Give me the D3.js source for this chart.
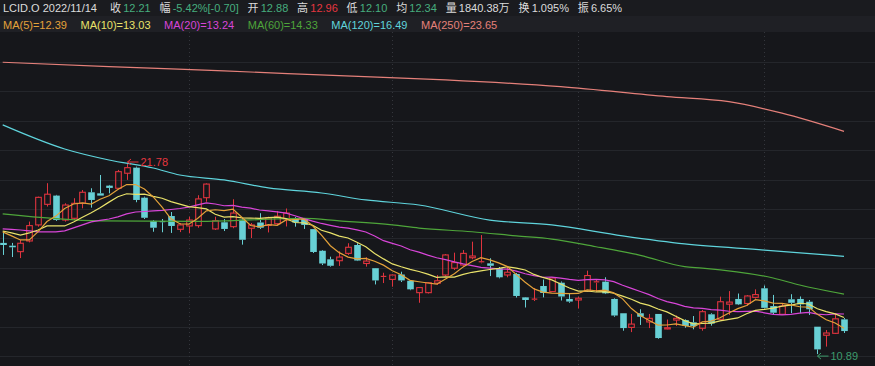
<!DOCTYPE html>
<html><head><meta charset="utf-8">
<script src="https://cdn.jsdelivr.net/npm/d3@7"></script>
<style>
html,body{margin:0;padding:0;background:#16171b;overflow:hidden}
svg{display:block}
text{font-family:"Liberation Sans",Arial,"Noto Sans CJK SC",sans-serif}
</style></head><body>
<svg id="c" width="875" height="366"></svg>
<script>
// ---------- data ----------
const symbol = "LCID.O";
const tradeDate = "2022/11/14";
const quoteLabels = ["收","幅","开","高","低","均","量","换","振"];
const quoteValues = ["12.21","-5.42%[-0.70]","12.88","12.96","12.10","12.34","1840.38万","1.095%","6.65%"];
const quoteTone   = ["down","down","down","up","down","down","flat","flat","flat"];

const maNames  = ["MA(5)","MA(10)","MA(20)","MA(60)","MA(120)","MA(250)"];
const maLatest = ["12.39","13.03","13.24","14.33","16.49","23.65"];

const opens  = [17.26,17.10,16.76,17.37,18.29,19.47,19.97,18.57,18.67,19.53,
                20.16,20.10,20.54,20.39,21.25,21.57,19.85,18.52,18.48,18.80,
                18.04,18.23,18.25,19.85,18.06,18.44,18.19,18.59,18.10,18.43,
                18.26,18.36,18.63,18.68,18.65,18.05,16.81,16.32,16.24,16.66,
                17.14,16.08,15.81,15.29,15.17,15.45,15.09,14.41,14.41,14.95,
                15.42,15.81,15.99,16.41,16.13,16.09,15.81,15.42,15.48,14.14,
                13.99,14.79,14.47,14.98,14.05,13.99,14.50,14.98,15.04,14.05,
                13.23,12.42,13.23,12.73,13.19,12.33,12.84,12.84,12.71,12.37,
                13.17,12.88,13.75,14.05,13.79,14.14,14.66,13.64,13.17,14.03,
                14.05,13.89,12.46,11.97,12.08,12.88];
const highs  = [17.94,17.26,17.43,18.48,19.91,20.68,20.01,19.53,19.82,20.29,
                20.39,21.15,20.58,21.44,21.78,21.63,19.91,18.57,18.63,19.03,
                18.40,18.76,19.99,20.67,18.76,18.63,19.76,18.69,18.40,18.96,
                18.76,19.09,19.23,18.74,18.69,18.06,16.85,16.47,16.78,17.24,
                17.24,16.44,15.82,15.55,15.45,15.61,15.13,14.73,15.02,15.42,
                16.62,16.70,16.85,17.33,17.71,16.38,15.88,15.90,15.54,14.16,
                14.68,15.16,15.29,15.05,14.37,14.18,15.67,15.16,15.29,14.09,
                13.23,13.19,13.46,13.19,13.19,12.87,13.10,12.88,13.07,13.42,
                13.23,14.18,14.50,14.36,14.27,14.60,14.82,14.28,13.80,14.32,
                14.19,13.99,12.46,12.27,13.19,12.96];
const lows   = [16.57,16.45,16.39,17.29,18.19,19.34,18.52,18.48,18.57,19.24,
                19.28,19.97,20.10,20.33,20.87,19.59,18.63,17.90,17.87,17.83,
                17.88,17.81,18.13,19.62,18.00,17.94,18.10,17.16,17.54,18.06,
                17.86,18.29,18.20,18.19,18.06,16.68,15.99,15.90,15.94,16.57,
                16.22,15.90,14.88,14.96,14.75,15.02,14.55,13.83,14.36,14.85,
                15.36,15.71,15.94,16.32,16.09,15.36,15.23,15.29,14.13,13.56,
                13.93,14.14,14.45,13.96,13.83,13.51,14.45,14.46,14.33,13.03,
                12.23,12.15,12.56,12.38,11.77,12.31,12.50,12.40,12.31,12.23,
                12.52,12.84,13.13,13.70,13.66,14.07,13.51,13.17,13.13,13.24,
                13.23,13.13,10.89,11.32,12.04,12.10];
const closes = [17.14,17.01,17.24,18.25,19.87,20.05,18.57,19.43,19.53,20.16,
                19.72,19.97,20.41,21.34,21.57,19.72,18.70,18.13,18.44,18.23,
                18.29,18.57,19.78,20.63,18.53,18.06,18.97,17.44,18.29,18.13,
                18.69,18.79,18.97,18.43,18.29,16.74,16.08,15.95,16.45,17.01,
                16.25,16.22,15.11,15.34,15.42,15.11,14.60,14.70,14.98,15.09,
                16.57,16.13,16.66,16.51,16.18,15.95,15.29,15.58,14.22,13.99,
                14.04,14.39,15.25,14.19,13.90,14.09,15.39,15.03,14.37,13.10,
                12.38,12.61,13.03,12.94,11.81,12.40,12.94,12.50,12.50,13.32,
                12.64,13.89,13.87,13.74,14.22,14.30,13.54,13.26,13.64,13.83,
                13.74,13.46,11.16,12.10,12.91,12.21];

// month boundaries (candle index of first session of Aug, Sep, Oct, Nov)
const monthStartIdx = [21,44,65,86];

// early MA values whose full window lies left of the view
const ma5Lead  = [17.89,17.66,17.43,17.43];
const ma10Lead = [17.94,17.83,17.71,17.83,18.00,18.23,18.23,18.23,18.46];
const ma20Lead = [18.06,18.03,18.00,17.95,17.89,17.89,17.89,17.95,18.12,18.29,
                  18.46,18.55,18.63,18.75,18.92,19.03,19.06,19.09,19.12];

// long MAs at these candle indices
const ma60Idx  = [0,11,22,34,38,44,47,53,58,62,67,70,72,77,79,87,90,95];
const ma60Val  = [18.92,18.52,18.49,18.66,18.52,18.29,18.11,17.90,17.66,17.48,17.04,16.76,16.55,15.90,15.82,15.25,14.85,14.33];
const ma120Idx = [0,7,12,17,20,25,30,36,41,47,55,62,70,77,86,95];
const ma120Val = [24.02,22.64,22.01,21.55,21.15,20.87,20.41,20.12,19.72,19.43,18.57,18.29,17.66,17.20,16.85,16.49];
const ma250Idx = [0,12,25,38,50,63,75,82,88,95];
const ma250Val = [27.61,27.36,27.11,26.84,26.60,26.21,25.64,25.35,24.69,23.65];

// ---------- drawing ----------
const W = 875, H = 366;
const C = {
  bg:"#16171b", row1:"#1a1b1f", row2:"#1f2025", grid:"#24262b", vgrid:"#34363c",
  up:"#e0343e", down:"#68d0d5", text:"#dcdcdc", green:"#46ad7e", red:"#e5363f",
  lowLbl:"#3d9a6c",
  ma:["#e4a23a","#e9e26a","#d845d8","#4ea53a","#5fd4dc","#e5807a"]
};
const svg = d3.select("#c");
svg.append("rect").attr("width",W).attr("height",H).attr("fill",C.bg);
svg.append("rect").attr("width",W).attr("height",16).attr("fill",C.row1);
svg.append("rect").attr("y",16).attr("width",W).attr("height",16).attr("fill",C.row2);

const n = closes.length;
const idx = d3.range(n);
const x = d3.scalePoint().domain(idx).range([2.7, 844]);
const y = d3.scaleLinear().domain([10.89, 21.78]).range([354.1, 164.0]);
const bodyW = 5.6;

// grid
const gridG = svg.append("g");
gridG.selectAll("line.h").data(d3.range(1, 12)).join("line")
  .attr("x1",0).attr("x2",W)
  .attr("y1",k=>Math.round(32.6+29.4*k)+0.5).attr("y2",k=>Math.round(32.6+29.4*k)+0.5)
  .attr("stroke",C.grid).attr("stroke-width",1);
gridG.selectAll("line.v").data(monthStartIdx).join("line")
  .attr("x1",i=>Math.round(x(i))+0.5).attr("x2",i=>Math.round(x(i))+0.5)
  .attr("y1",32).attr("y2",H)
  .attr("stroke",C.vgrid).attr("stroke-width",1).attr("stroke-dasharray","1,3");

// candles
const candles = idx.map(i => ({i, o:opens[i], h:highs[i], l:lows[i], c:closes[i]}));
const cg = svg.append("g").selectAll("g").data(candles).join("g");
cg.each(function(d){
  const g = d3.select(this);
  const up = d.c >= d.o;
  const col = up ? C.up : C.down;
  const cx = Math.round(x(d.i)) + 0.5;
  const yTop = y(Math.max(d.o,d.c)), yBot = y(Math.min(d.o,d.c));
  g.append("line").attr("x1",cx).attr("x2",cx).attr("y1",y(d.h)).attr("y2",yTop)
    .attr("stroke",col).attr("stroke-width",1);
  g.append("line").attr("x1",cx).attr("x2",cx).attr("y1",yBot).attr("y2",y(d.l))
    .attr("stroke",col).attr("stroke-width",1);
  const hgt = yBot - yTop;
  if (hgt < 1.2) {
    g.append("line").attr("x1",cx-bodyW/2).attr("x2",cx+bodyW/2)
      .attr("y1",yTop).attr("y2",yTop).attr("stroke",col).attr("stroke-width",1.2);
  } else if (up) {
    g.append("rect").attr("x",cx-bodyW/2).attr("y",yTop).attr("width",bodyW).attr("height",hgt)
      .attr("fill","none").attr("stroke",col).attr("stroke-width",1.1);
  } else {
    g.append("rect").attr("x",cx-bodyW/2-0.5).attr("y",yTop).attr("width",bodyW+1).attr("height",hgt)
      .attr("fill",col);
  }
});

// moving averages
function movingAvg(period, lead){
  return closes.map((c,i)=> i < period-1 ? lead[i] : d3.mean(closes.slice(i-period+1, i+1)));
}
const lineGen = d3.line().x(d=>x(d[0])).y(d=>y(d[1]));
const smoothGen = d3.line().x(d=>x(d[0])).y(d=>y(d[1])).curve(d3.curveMonotoneX);
const maG = svg.append("g").attr("fill","none").attr("stroke-width",1.2);
const maSeries = [
  {pts: movingAvg(5, ma5Lead).map((v,i)=>[i,v]), gen: lineGen},
  {pts: movingAvg(10, ma10Lead).map((v,i)=>[i,v]), gen: lineGen},
  {pts: movingAvg(20, ma20Lead).map((v,i)=>[i,v]), gen: lineGen},
  {pts: ma60Idx.map((k,j)=>[k, ma60Val[j]]), gen: smoothGen},
  {pts: ma120Idx.map((k,j)=>[k, ma120Val[j]]), gen: smoothGen},
  {pts: ma250Idx.map((k,j)=>[k, ma250Val[j]]), gen: smoothGen}
];
[5,4,3,2,1,0].forEach(k=>{
  maG.append("path").attr("d", maSeries[k].gen(maSeries[k].pts)).attr("stroke", C.ma[k]);
});

// extreme labels
function extremeLabel(i, price, color, dy){
  const cx = Math.round(x(i)) + 0.5;
  const ay = y(price) + dy;
  const g = svg.append("g").attr("stroke",color).attr("fill","none").attr("stroke-width",1);
  g.append("path").attr("d",`M${cx},${ay}H${cx+11}M${cx+3.5},${ay-3}L${cx},${ay}L${cx+3.5},${ay+3}`);
  svg.append("text").attr("x",cx+13).attr("y",ay+4).attr("fill",color)
    .attr("font-size",11).text(price.toFixed(2));
}
const hiI = d3.maxIndex(highs), loI = d3.minIndex(lows);
extremeLabel(hiI, highs[hiI], C.red, -2);
extremeLabel(loI, lows[loI], C.lowLbl, 2);

// header row
const head = svg.append("g").attr("font-size",11);
let hx = 3;
const t0 = head.append("text").attr("x",hx).attr("y",11.7).attr("fill",C.text).text(symbol+" "+tradeDate);
hx += t0.node().getComputedTextLength() + 13;
quoteLabels.forEach((lab,j)=>{
  const a = head.append("text").attr("x",hx).attr("y",11.7).attr("fill",C.text).text(lab);
  hx += a.node().getComputedTextLength() + 2.2;
  const col = quoteTone[j]==="up" ? C.red : quoteTone[j]==="down" ? C.green : C.text;
  const b = head.append("text").attr("x",hx).attr("y",11.7).attr("fill",col).text(quoteValues[j]);
  hx += b.node().getComputedTextLength() + 8.8;
});

// MA legend row
const leg = svg.append("g").attr("font-size",11);
let lx = 3;
maNames.forEach((nm,j)=>{
  const t = leg.append("text").attr("x",lx).attr("y",29).attr("fill",C.ma[j]).text(nm+"="+maLatest[j]);
  lx += t.node().getComputedTextLength() + 13.6;
});
</script>
</body></html>
